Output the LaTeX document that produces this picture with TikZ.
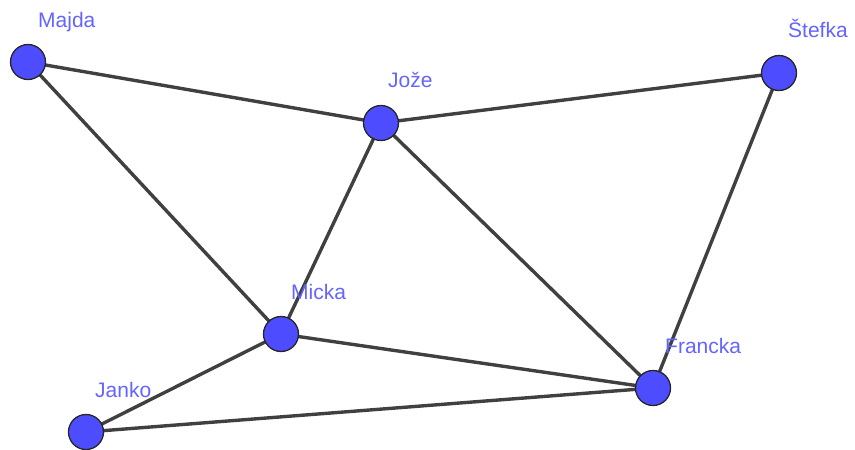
\documentclass[tikz,border=0pt]{standalone}
\usepackage{fontspec}
\setmainfont{Liberation Sans}
\definecolor{vfill}{HTML}{4D4DFF}
\definecolor{vline}{HTML}{404040}
\definecolor{vlabel}{HTML}{6464FF}
\begin{document}
\begin{tikzpicture}[x=1pt,y=-1pt,
  vertex/.style={circle,fill=vfill,draw=black!85,line width=1.3pt,minimum size=35pt,inner sep=0pt},
  edge/.style={draw=vline,line width=3.4pt},
  lbl/.style={text=vlabel,font=\fontsize{21}{21}\selectfont,anchor=base west,inner sep=0pt}]
\useasboundingbox (0,0) rectangle (855,450);
\coordinate (Ma) at (28,62);
\coordinate (Jo) at (381,123);
\coordinate (St) at (779,73);
\coordinate (Mi) at (281,334);
\coordinate (Fr) at (653,388);
\coordinate (Ja) at (86,432);
\draw[edge] (Ma) -- (Jo);
\draw[edge] (Ma) -- (Mi);
\draw[edge] (Jo) -- (St);
\draw[edge] (Jo) -- (Mi);
\draw[edge] (Jo) -- (Fr);
\draw[edge] (St) -- (Fr);
\draw[edge] (Mi) -- (Fr);
\draw[edge] (Mi) -- (Ja);
\draw[edge] (Ja) -- (Fr);
\node[vertex] (nMa) at (Ma) {};
\node[vertex] (nJo) at (Jo) {};
\node[vertex] (nSt) at (St) {};
\node[vertex] (nMi) at (Mi) {};
\node[vertex] (nFr) at (Fr) {};
\node[vertex] (nJa) at (Ja) {};
\node[lbl] (lMa) at (38,27) {Majda};
\node[lbl] (lJo) at (388,87) {Jože};
\node[lbl] (lSt) at (788,37) {Štefka};
\node[lbl] (lMi) at (291,299) {Micka};
\node[lbl] (lFr) at (665,353) {Francka};
\node[lbl] (lJa) at (95,397) {Janko};
\end{tikzpicture}
\end{document}
